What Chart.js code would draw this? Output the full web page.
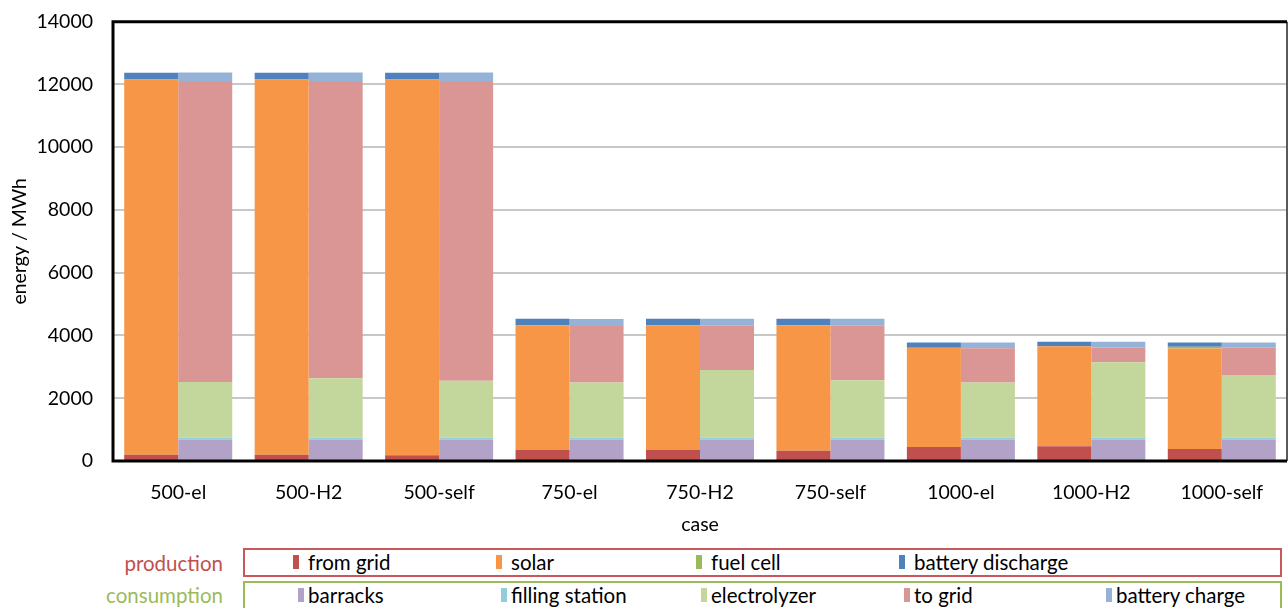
<!DOCTYPE html>
<html>
<head>
<meta charset="utf-8">
<script src="https://cdn.jsdelivr.net/npm/chart.js@4/dist/chart.umd.min.js"></script>
<style>
  html, body { margin: 0; padding: 0; background: #fff; width: 1288px; height: 608px; overflow: hidden; font-family: Lato, "Open Sans", sans-serif; }
  #wrap { position: absolute; left: 0; top: -10px; width: 1288px; height: 550px; }
  .lbl { position: absolute; font-size: 20.5px; line-height: 24px; text-align: right; width: 200px; left: 23px; }
  .box { position: absolute; left: 243px; width: 1035px; height: 25px; border: 2px solid; }
  .item { position: absolute; top: 0px; font-size: 20.5px; line-height: 24px; color: #000; white-space: nowrap; }
  .mk { position: absolute; width: 6px; height: 14px; top: 5px; }
</style>
</head>
<body>
<div id="wrap"><canvas id="c"></canvas></div>
<div class="lbl" style="top:551px;color:#C0504D;">production</div>
<div class="lbl" style="top:583px;color:#9BBB59;">consumption</div>
<div class="box" id="prodBox" style="top:548px;border-color:#C9585A;"></div>
<div class="box" id="consBox" style="top:581px;border-color:#9BBB59;"></div>
<script>
const categories = ['500-el','500-H2','500-self','750-el','750-H2','750-self','1000-el','1000-H2','1000-self'];
const yTicks = [0, 2000, 4000, 6000, 8000, 10000, 12000, 14000];

// production
const fromGrid         = [200, 200, 180, 350, 350, 330, 445, 470, 380];
const solar            = [11960, 11960, 11980, 3980, 3980, 4000, 3165, 3190, 3205];
const fuelCell         = [0, 0, 0, 0, 0, 0, 0, 0, 55];
const batteryDischarge = [215, 215, 215, 200, 200, 200, 170, 140, 140];

// consumption
const barracks       = [680, 680, 680, 680, 680, 680, 680, 680, 680];
const fillingStation = [60, 60, 60, 60, 60, 60, 60, 60, 60];
const electrolyzer   = [1775, 1900, 1820, 1765, 2160, 1830, 1765, 2410, 2000];
const toGrid         = [9595, 9470, 9550, 1795, 1410, 1740, 1085, 470, 870];
const batteryCharge  = [270, 270, 270, 225, 225, 225, 190, 180, 170];

const prodSeries = [
  {label:'from grid', data: fromGrid, color:'#C0504D'},
  {label:'solar', data: solar, color:'#F79646'},
  {label:'fuel cell', data: fuelCell, color:'#9BBB59'},
  {label:'battery discharge', data: batteryDischarge, color:'#4F81BD'}
];
const consSeries = [
  {label:'barracks', data: barracks, color:'#B2A2C7'},
  {label:'filling station', data: fillingStation, color:'#92CDDC'},
  {label:'electrolyzer', data: electrolyzer, color:'#C3D69B'},
  {label:'to grid', data: toGrid, color:'#D99694'},
  {label:'battery charge', data: batteryCharge, color:'#95B3D7'}
];

const datasets = [];
prodSeries.forEach(s => datasets.push({label:s.label, data:s.data, backgroundColor:s.color, stack:'production', borderWidth:0}));
consSeries.forEach(s => datasets.push({label:s.label, data:s.data, backgroundColor:s.color, stack:'consumption', borderWidth:0}));

// legend (HTML text)
const prodX = [308, 511, 711, 914];
const consX = [308, 511, 711, 914, 1116];
function addItems(boxId, series, xs, gap) {
  const box = document.getElementById(boxId);
  series.forEach((s, i) => {
    const mk = document.createElement('div');
    mk.className = 'mk';
    mk.style.left = (xs[i] - 243 - 2 - gap - 6) + 'px';
    mk.style.background = s.color;
    box.appendChild(mk);
    const t = document.createElement('div');
    t.className = 'item';
    t.style.left = (xs[i] - 243 - 2) + 'px';
    t.textContent = s.label;
    box.appendChild(t);
  });
}
addItems('prodBox', prodSeries, prodX, 9);
addItems('consBox', consSeries, consX, 4);

const framePlugin = {
  id: 'frame',
  afterDatasetsDraw(chart) {
    const {ctx, chartArea: a} = chart;
    ctx.save();
    ctx.strokeStyle = '#595959';
    ctx.lineWidth = 2;
    ctx.beginPath(); ctx.moveTo(a.right, a.top); ctx.lineTo(a.right, a.bottom); ctx.stroke();
    ctx.strokeStyle = '#000';
    ctx.lineWidth = 3;
    ctx.beginPath();
    ctx.moveTo(a.right, a.top); ctx.lineTo(a.left, a.top); ctx.lineTo(a.left, a.bottom); ctx.lineTo(a.right, a.bottom);
    ctx.stroke();
    ctx.restore();
  }
};

Chart.defaults.font.family = 'Lato, "Open Sans", sans-serif';
Chart.defaults.color = '#000';

new Chart(document.getElementById('c'), {
  type: 'bar',
  data: { labels: categories, datasets },
  plugins: [framePlugin],
  options: {
    responsive: true,
    maintainAspectRatio: false,
    animation: false,
    layout: { padding: { left: 0, top: 10, right: 1, bottom: 0 } },
    datasets: { bar: { categoryPercentage: 0.828, barPercentage: 1.0 } },
    plugins: { legend: { display: false }, tooltip: { enabled: false } },
    scales: {
      x: {
        stacked: true,
        grid: { display: false, drawTicks: false },
        border: { display: false },
        ticks: { font: { size: 19.5 }, padding: 20, color: '#000', maxRotation: 0 },
        title: { display: true, text: 'case', font: { size: 19.5 }, color: '#000', padding: { top: 0, bottom: 4 } },
        afterFit(scale) { scale.height = 79; }
      },
      y: {
        stacked: true,
        min: 0, max: 14000,
        afterBuildTicks(scale) { scale.ticks = yTicks.map(v => ({value: v})); },
        grid: { color: '#C8C8C8', lineWidth: 2, drawTicks: false },
        border: { display: false },
        ticks: { font: { size: 19.5 }, padding: 20, color: '#000', callback: (v) => String(v) },
        title: { display: true, text: 'energy / MWh', font: { size: 19.5 }, color: '#000', padding: { top: 8, bottom: 0 } },
        afterFit(scale) { scale.width = 113; }
      }
    }
  }
});
</script>
</body>
</html>
